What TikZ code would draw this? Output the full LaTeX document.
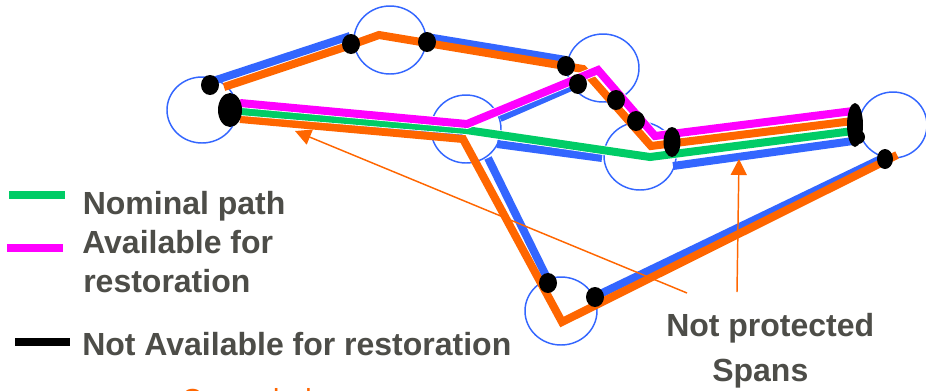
\documentclass[tikz,border=0pt]{standalone}
\usepackage{fontspec}
\setmainfont{Liberation Sans}
\usetikzlibrary{arrows.meta}
\definecolor{lblue}{RGB}{51,102,255}
\definecolor{lorange}{RGB}{255,102,0}
\definecolor{lmag}{RGB}{255,0,255}
\definecolor{lgreen}{RGB}{0,204,102}
\definecolor{ltext}{RGB}{77,77,72}
\tikzset{
  site/.style={draw=lblue, line width=1.1pt},
  span/.style={line width=6pt},
  sepspan/.style={line width=6pt, preaction={draw=white, line width=7.2pt}},
  bluespan/.style={span, draw=lblue},
  orangespan/.style={span, draw=lorange},
  greenspan/.style={sepspan, draw=lgreen},
  magspan/.style={sepspan, draw=lmag},
  blackdot/.style={fill=black},
  legbar/.style={line width=6pt},
  annot/.style={draw=lorange, line width=1.1pt, -{Triangle[length=12pt,width=12pt]}},
  lbl/.style={text=ltext, font=\bfseries\fontsize{24}{28}\selectfont, inner sep=0pt, anchor=base west},
}
\begin{document}
\begin{tikzpicture}[x=0.75pt,y=-0.75pt]
\useasboundingbox (0,0) rectangle (926,390);
\clip (0,0) rectangle (926,390);
\fill[white] (0,0) rectangle (926,390);

% sites
\draw[site] (202,110) ellipse [x radius=35, y radius=33];
\draw[site] (390,40) ellipse [x radius=36, y radius=34];
\draw[site] (466,129) ellipse [x radius=35, y radius=34];
\draw[site] (603,68) ellipse [x radius=36, y radius=34];
\draw[site] (640,156) ellipse [x radius=36, y radius=34];
\draw[site] (893,125) ellipse [x radius=34, y radius=33];
\draw[site] (561,311) ellipse [x radius=36, y radius=34];

% blue spans
\draw[bluespan] (240,115) -- (463,134);
\draw[bluespan] (210,82) -- (350,36);
\draw[bluespan] (427,37) -- (566,60);
\draw[bluespan] (500,118) -- (578,84);
\draw[bluespan] (497,144) -- (602,158);
\draw[bluespan] (673,166) -- (853,141);
\draw[bluespan] (885,157) -- (596,296);
\draw[bluespan] (488,158) -- (549,282);

% orange
\draw[orangespan] (224,87) -- (351,45) -- (379,35) -- (427,43) -- (583,69) -- (651,146) -- (853,121);
\draw[orangespan] (240,119) -- (463,139) -- (562,322) -- (897,155);

% green nominal
\draw[greenspan] (240,111) -- (466,130) -- (650,157) -- (853,131);

% magenta
\draw[magspan] (240,103) -- (467,124) -- (598,70) -- (655,136) -- (853,111);

% black dots
\fill[blackdot] (210,85) ellipse [x radius=9, y radius=10];
\fill[blackdot] (230,110) ellipse [x radius=12, y radius=17];
\fill[blackdot] (351,44) ellipse [x radius=9, y radius=10];
\fill[blackdot] (427,42) ellipse [x radius=9, y radius=10];
\fill[blackdot] (566,66) ellipse [x radius=9, y radius=10];
\fill[blackdot] (578,84) ellipse [x radius=9, y radius=10];
\fill[blackdot] (616,100) ellipse [x radius=9, y radius=10];
\fill[blackdot] (636,121) ellipse [x radius=9, y radius=10];
\fill[blackdot] (672,142) ellipse [x radius=8.5, y radius=15];
\fill[blackdot] (855,125) ellipse [x radius=8, y radius=22];
\fill[blackdot] (858,137) circle [radius=7];
\fill[blackdot] (885,159) ellipse [x radius=8, y radius=10];
\fill[blackdot] (548,283) ellipse [x radius=9, y radius=10];
\fill[blackdot] (595,297) ellipse [x radius=9, y radius=10];

% legend
\draw[legbar, lgreen] (9,195) -- (65,195);
\draw[legbar, lmag] (7,248) -- (63,248);
\draw[legbar, black] (15,342) -- (70,342);
\node[lbl] (lnom) at (82.5,214) {Nominal path};
\node[lbl] (lav1) at (82,253) {Available for};
\node[lbl] (lav2) at (83,292) {restoration};
\node[lbl] (lnot) at (82,355) {Not Available for restoration};

% not protected spans
\node[lbl] (np) at (666,336) {Not protected};
\node[lbl] (sp) at (712,381) {Spans};
\coordinate (np1) at (687,293);
\coordinate (np2) at (737,292);
\coordinate (tgt1) at (295,131);
\coordinate (tgt2) at (739,159);
\draw[annot] (np1) -- (tgt1);
\draw[annot] (np2) -- (tgt2);

% text cut off by the lower edge, as in the reference
\node[text=lorange, font=\fontsize{21.75}{26}\selectfont, inner sep=0pt, anchor=base west] (bot) at (181,409) {Cascaded};
\end{tikzpicture}
\end{document}
